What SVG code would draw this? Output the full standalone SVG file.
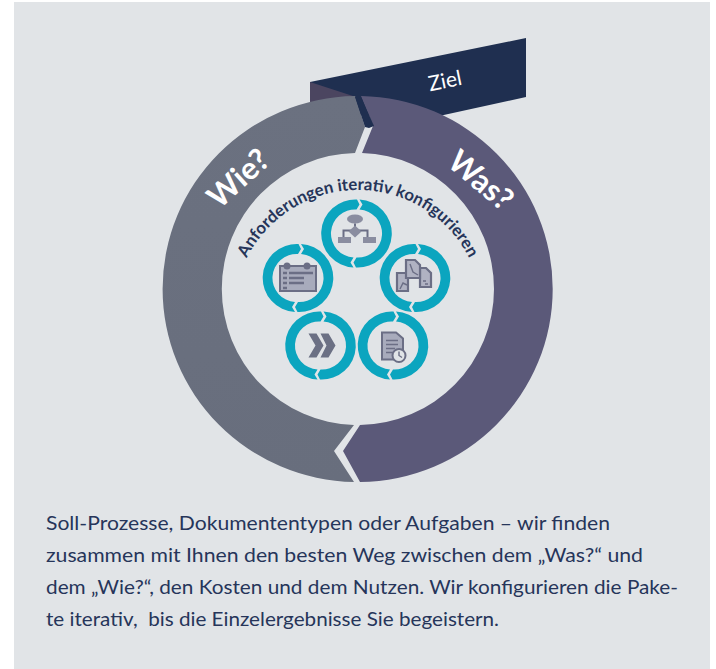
<svg xmlns="http://www.w3.org/2000/svg" xmlns:xlink="http://www.w3.org/1999/xlink" width="716" height="669" viewBox="0 0 716 669">
<style>
text{font-family:Lato,"Noto Sans","Liberation Sans",sans-serif}
.body{font-size:19px;fill:#26355a;white-space:pre}
.big{font-size:31px;font-weight:700;fill:#fff;text-anchor:middle}
.ic{fill:#8a8da0}
.icd{fill:#6b6e85}
.ics{fill:none;stroke:#6b6e85;stroke-width:2}
.sr{fill:#0ba5bf}
</style>
<defs>
<linearGradient id="gl" x1="0" y1="0" x2="0" y2="1"><stop offset="0" stop-color="#6b7180"/><stop offset="1" stop-color="#686e7d"/></linearGradient>
<path id="half" d="M3,-34 A34,34 0 0 1 -0.5,34 L-3,29 L0,24 A24,24 0 0 0 3,-24 L6,-29 Z"/>
<g id="ring"><use href="#half" class="sr"/><use href="#half" class="sr" transform="rotate(180)"/></g>
<path id="arc" d="M233,315 A125,125 0 0 1 483,315"/>
</defs>
<rect width="716" height="669" fill="#fff"/>
<rect x="14" y="2" width="696" height="667" fill="#e1e4e7"/>
<g id="ziel">
<polygon points="310,82 526,38 526,97 430,118 380,118 310,106" fill="#1f2f50"/>
<polygon points="310,82 356,97 310,106" fill="#4b4560"/>
<text x="445" y="88" transform="rotate(-11.5 445 81)" font-size="21" font-weight="400" fill="#fff" text-anchor="middle">Ziel</text>
</g>
<g id="wie">
<path d="M355,96 A195,193 0 0 0 162.6,289 A195,193 0 0 0 354,482 L334,451 L354,425 A136,136 0 0 1 221.8,289 A136,136 0 0 1 355,153 L365,127 Z" fill="url(#gl)"/>
<text class="big" x="238" y="189" transform="rotate(-42 238 178)">Wie?</text>
</g>
<g id="was">
<path d="M361,96 A195,193 0 0 1 552.7,289 A195,193 0 0 1 360,482 L343,451 L360,425 A136,136 0 0 0 494,289 A136,136 0 0 0 362,153 L373,126 Z" fill="#5b5979"/>
<text class="big" x="481" y="191" transform="rotate(40 481 180)">Was?</text>
</g>
<g id="connectors"><path d="M355,97 L361,97 L374,126 L369,128 L365,127 Z" fill="#1f2f50"/></g>
<g id="title"><text font-size="16.8" font-weight="700" fill="#26355a"><textPath href="#arc" startOffset="50%" text-anchor="middle">Anforderungen iterativ konfigurieren</textPath></text></g>
<g id="n1" transform="translate(356.5 233.5)"><use href="#ring"/>
<ellipse cx="-1.5" cy="-14.5" rx="8" ry="4.5" class="ic"/><path d="M-1.5,-10V-6M-13,4V-3H11V4" class="ics"/><polygon points="-1.5,-8 5,-2 -1.5,4 -8,-2" class="ic"/><rect x="-18.5" y="3.5" width="13" height="6" class="ic"/><rect x="6.5" y="3.5" width="13" height="6" class="ic"/></g>
<g id="n2" transform="translate(298 278)"><use href="#ring"/>
<rect x="-18" y="-12" width="36" height="25" fill="#a8abbc" stroke="#6b6e85" stroke-width="2"/><circle cx="-11" cy="-12" r="3.5" class="icd"/><circle cx="9" cy="-12" r="3.5" class="icd"/><path d="M-15,-5h4M-15,0h4M-15,5h4M-15,10h4M-9,-5H15M-9,0H6M-9,5H6" stroke="#6b6e85" stroke-width="2.5" fill="none"/></g>
<g id="n3" transform="translate(415 278)"><use href="#ring"/>
<g fill="#b0b2c2" stroke="#6b6e85" stroke-width="2.2"><path d="M-18,-5H-7V13H-18Z"/><path d="M5,-10H11L16,-5V9H5Z"/><path d="M-9,-18H0L5,-13V0H-9Z"/></g><path d="M-15,11L-12,5L-8,7M-5,-14L-2,-6L3,-3M8,3h3M10,6h3" fill="none" stroke="#6b6e85" stroke-width="1.4"/></g>
<g id="n4" transform="translate(320.5 345.5)"><use href="#ring"/>
<polygon points="-12,-12 -4,-12 3,0 -4,12 -12,12 -5,0" fill="#6b7084"/><polygon points="0,-12 8,-12 15,0 8,12 0,12 6,0" fill="#6b7084"/></g>
<g id="n5" transform="translate(393 345.5)"><use href="#ring"/>
<path d="M-11,-13H3L10,-7V14H-11Z" fill="#a8abbc" stroke="#6b6e85" stroke-width="2"/><path d="M-7,-5H5M-7,-1H5M-7,3H2M-7,7H0" stroke="#6b6e85" stroke-width="1.4" fill="none"/><circle cx="6" cy="10" r="6.5" fill="#e1e4e7" stroke="#6b6e85" stroke-width="2"/><path d="M6,6V10L9,12" stroke="#6b6e85" stroke-width="1.4" fill="none"/></g>
<g id="text">
<text class="body" x="46" y="530" textLength="564" lengthAdjust="spacingAndGlyphs">Soll-Prozesse, Dokumententypen oder Aufgaben – wir finden</text>
<text class="body" x="46" y="562" textLength="597" lengthAdjust="spacingAndGlyphs">zusammen mit Ihnen den besten Weg zwischen dem „Was?“ und</text>
<text class="body" x="46" y="594" textLength="632" lengthAdjust="spacingAndGlyphs">dem „Wie?“, den Kosten und dem Nutzen. Wir konfigurieren die Pake-</text>
<text class="body" x="46" y="626" textLength="453" lengthAdjust="spacingAndGlyphs">te iterativ,  bis die Einzelergebnisse Sie begeistern.</text>
</g>
</svg>
